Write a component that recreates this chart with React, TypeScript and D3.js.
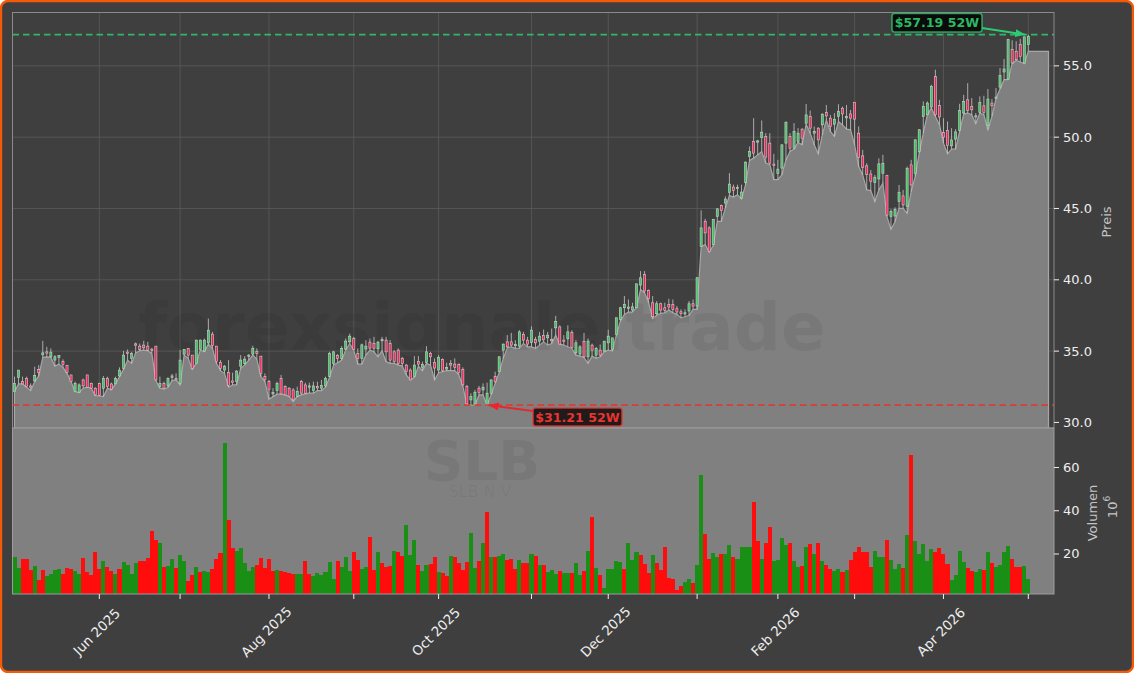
import * as d3 from "d3";

const open = [
  32.16,33.16,32.86,33.09,32.56,32.91,33.72,34.74,34.95,34.60,
  34.37,34.56,34.28,34.00,33.33,32.16,32.09,32.98,33.33,32.74,
  32.40,32.74,32.40,33.09,32.70,32.70,33.26,33.79,34.93,34.49,
  35.51,35.35,35.42,35.35,35.14,35.35,32.51,32.74,32.56,33.16,
  33.07,32.74,34.79,35.19,34.72,34.14,35.12,35.00,35.58,36.19,
  35.35,34.21,33.67,33.49,32.91,32.86,33.95,34.14,34.63,34.79,
  34.98,34.65,33.23,32.86,32.00,32.23,33.07,32.51,32.40,32.28,
  31.81,32.86,32.63,32.47,32.23,32.51,32.40,32.56,33.21,34.14,
  34.70,34.49,35.14,35.65,35.88,34.84,34.47,35.14,35.63,35.53,
  35.16,35.72,35.77,35.53,34.95,35.07,34.49,34.02,33.67,33.21,
  34.28,33.86,34.21,34.84,34.21,33.67,34.42,33.74,34.14,34.09,
  34.07,33.72,32.51,31.58,31.30,32.40,32.28,31.23,32.05,33.21,
  33.56,35.07,35.65,35.65,35.37,35.35,36.16,35.77,35.60,35.81,
  35.70,36.09,35.93,35.81,36.63,36.70,35.77,35.86,36.30,34.88,
  34.79,35.67,34.60,35.42,34.72,35.07,35.00,35.58,35.12,36.17,
  37.23,38.04,38.00,37.88,38.04,39.63,40.37,39.25,38.39,37.62,
  38.32,38.04,38.27,38.27,37.97,37.76,37.60,37.81,38.32,38.16,
  42.35,44.10,43.64,42.47,44.45,45.20,45.38,46.13,46.50,46.39,
  45.73,46.83,48.65,49.70,49.65,49.98,50.05,49.58,48.11,47.44,
  47.83,49.58,50.05,49.23,49.70,50.56,50.98,51.45,50.28,50.63,
  50.86,51.72,51.33,50.91,51.45,52.03,51.35,51.63,52.45,50.28,
  48.69,47.99,47.42,46.81,47.07,47.47,47.33,44.43,44.47,45.48,
  45.88,45.13,48.06,47.47,49.00,51.45,51.57,52.11,54.26,52.22,
  50.33,50.47,49.39,49.86,50.47,51.69,52.62,52.15,51.41,51.73,
  52.20,50.80,52.39,52.72,53.51,54.57,54.07,56.14,56.02,56.49,55.20,56.49,
];

const close = [
  32.74,33.67,32.70,32.51,32.47,33.30,33.49,34.88,34.86,34.93,
  34.60,34.70,34.05,33.51,32.86,32.74,32.63,32.56,32.47,32.40,
  31.93,31.91,33.09,32.51,32.33,33.09,33.67,34.72,34.84,34.84,
  35.42,35.12,35.23,35.07,35.05,32.98,32.74,32.40,33.09,33.26,
  32.98,34.37,35.12,34.72,33.79,35.77,35.77,35.77,36.47,35.40,
  34.26,33.79,33.95,32.60,32.81,33.60,34.37,34.44,34.72,35.19,
  34.84,33.44,33.02,32.33,32.09,32.74,32.00,31.93,31.81,31.58,
  32.16,32.05,32.05,32.56,32.56,32.42,32.60,33.09,34.84,34.95,
  34.49,35.19,35.70,36.05,35.12,34.47,35.44,35.35,35.21,35.21,
  35.63,35.81,34.95,34.37,34.26,34.14,34.14,33.56,32.98,34.02,
  34.09,34.07,34.95,34.60,33.81,34.56,33.63,33.84,34.02,33.86,
  33.49,32.63,31.30,31.81,32.12,32.09,32.47,32.05,32.98,32.86,
  34.60,35.49,35.30,35.42,35.47,36.35,35.77,35.49,36.47,35.58,
  36.05,35.79,36.12,35.72,37.09,35.49,35.67,36.35,35.26,35.58,
  35.30,34.60,35.70,35.07,35.19,34.72,35.70,36.05,35.93,37.34,
  38.04,38.27,38.09,38.11,39.72,40.14,39.21,38.67,37.41,38.32,
  37.88,37.86,38.09,37.93,37.74,37.62,37.69,38.32,38.16,40.14,
  43.64,43.29,42.00,44.22,44.97,44.87,45.66,46.71,46.27,46.48,
  46.15,48.25,49.00,48.88,49.74,50.35,48.60,48.18,48.02,47.76,
  49.46,51.05,49.23,50.40,50.28,49.93,51.56,50.63,50.40,49.81,
  51.61,51.49,50.75,51.26,51.79,51.63,51.45,51.33,51.26,48.59,
  47.89,47.38,46.91,47.19,48.13,48.17,44.54,44.78,44.94,46.14,
  45.25,47.82,46.65,49.81,50.52,52.15,52.39,53.56,51.57,51.41,
  50.00,49.41,49.81,50.37,51.87,52.51,51.87,51.92,51.50,52.44,
  51.73,52.67,52.20,52.81,54.31,54.78,56.84,55.20,55.43,55.67,57.03,57.07,
];

const high = [
  33.21,33.67,33.21,33.21,32.74,33.91,34.02,35.72,35.30,35.19,
  34.72,34.70,34.42,34.00,33.33,32.86,32.74,33.07,33.33,32.79,
  32.47,32.79,33.26,33.21,32.79,33.21,33.86,35.02,35.12,34.95,
  35.60,35.53,35.72,35.65,35.23,35.35,33.21,32.86,33.16,33.40,
  33.44,35.07,35.12,35.19,34.72,35.81,35.81,35.88,37.28,36.35,
  35.35,34.37,34.02,34.37,33.49,33.67,34.72,34.65,34.79,35.37,
  35.19,34.65,33.44,32.98,32.40,32.86,33.33,32.60,32.47,32.40,
  32.51,32.98,32.79,32.79,32.86,32.86,32.98,33.21,34.95,35.02,
  34.79,35.35,35.88,36.23,36.00,35.19,35.53,35.77,35.88,36.00,
  35.72,36.00,36.00,35.77,35.07,35.19,34.60,34.09,33.79,34.65,
  34.65,34.26,35.35,34.95,34.49,34.72,34.49,34.19,34.37,34.49,
  34.14,33.86,32.63,32.05,32.28,32.56,32.74,32.79,33.02,33.56,
  34.65,35.53,36.12,36.28,35.77,36.47,36.35,36.00,36.74,36.00,
  36.35,36.51,36.35,36.58,37.47,36.81,36.12,36.81,36.47,35.77,
  35.42,36.28,35.88,35.53,35.30,35.47,35.70,36.50,35.93,37.34,
  38.10,38.86,38.62,38.39,39.72,40.61,40.61,39.32,38.86,38.51,
  38.39,38.39,38.67,38.62,38.16,37.93,37.93,38.51,38.62,40.19,
  44.87,44.27,43.75,44.27,45.03,45.27,45.85,47.48,46.67,46.67,
  46.67,48.30,49.35,51.33,49.81,51.17,50.28,50.28,48.83,48.41,
  49.51,51.10,50.28,50.98,50.63,50.63,52.33,51.86,50.75,50.70,
  51.68,52.26,51.56,51.68,52.31,52.14,52.26,51.91,52.45,50.75,
  49.11,48.17,47.70,47.35,48.52,48.76,47.35,44.94,45.08,46.65,
  46.30,47.94,48.41,49.86,50.56,52.51,52.51,53.68,54.73,52.62,
  51.33,51.10,50.63,50.56,52.34,52.97,53.79,52.74,51.69,52.86,
  52.90,53.37,52.67,53.44,54.85,55.48,56.89,56.79,56.72,56.89,57.07,57.19,
];

const low = [
  32.16,32.70,32.70,32.47,32.23,32.86,33.26,34.56,34.60,34.56,
  33.95,34.09,33.86,33.44,32.86,32.16,32.09,32.40,32.47,32.40,
  31.88,31.86,31.81,32.40,32.28,32.70,33.21,33.72,34.37,34.14,
  34.88,35.02,35.07,35.02,34.84,32.93,32.40,32.33,32.47,32.93,
  32.98,32.63,34.72,34.49,33.72,34.14,35.07,34.95,35.49,35.19,
  34.14,33.63,33.44,32.47,32.63,32.63,33.79,34.02,34.37,34.72,
  34.42,33.21,32.86,31.63,31.81,31.98,31.98,31.93,31.81,31.47,
  31.81,31.93,32.00,32.05,32.05,32.23,32.23,32.47,33.16,34.02,
  34.19,34.37,35.07,35.53,35.07,34.09,34.09,34.72,35.07,34.95,
  34.60,35.02,34.26,34.14,34.14,34.02,33.95,33.33,32.98,33.16,
  33.95,33.63,34.14,34.02,32.98,33.49,33.56,33.63,33.63,33.63,
  33.33,32.56,31.23,31.21,31.21,31.93,31.93,31.21,31.93,32.74,
  33.49,34.49,35.23,35.30,35.19,35.19,35.53,35.30,35.30,35.19,
  35.42,35.65,35.42,35.53,36.12,35.49,35.42,35.30,35.19,34.72,
  34.65,34.56,34.14,34.65,34.49,34.60,34.95,35.07,35.00,36.10,
  37.10,37.58,37.74,37.74,38.04,39.32,39.09,38.39,37.27,37.51,
  37.65,37.69,37.88,37.69,37.58,37.34,37.41,37.51,37.93,37.93,
  42.31,42.47,41.93,42.40,44.10,44.10,45.03,45.90,45.80,45.97,
  45.66,46.67,48.37,48.53,48.76,49.00,48.18,48.07,47.02,47.02,
  47.37,48.41,49.00,49.16,49.63,49.46,50.91,50.28,49.46,48.83,
  50.16,51.21,50.40,50.05,51.10,50.86,50.56,50.51,49.46,47.94,
  47.35,46.30,46.25,45.48,46.30,46.77,44.43,43.54,44.07,45.01,
  45.01,44.66,46.18,47.24,48.88,50.28,51.57,52.04,51.45,50.87,
  49.58,48.83,49.16,49.16,50.40,51.62,51.69,51.57,50.94,51.69,
  51.57,50.52,51.45,52.72,53.37,54.03,54.03,55.15,55.39,55.27,55.15,56.02,
];

// Millionen Stueck
const volume = [
  18.8,13.7,17.7,17.7,12.6,14.5,8,12.6,10,10.8,
  12.5,13,10.8,13.5,13,12.1,10.8,18.2,11.7,10.3,
  21,13,16.8,14,12.1,10.8,13,16.3,15,10.6,
  15.9,16.8,16.8,18.2,30.7,26.5,25.1,14,14.5,17.7,
  13.5,19.6,16.8,7.5,10.3,14,11.7,12.1,11.7,13,
  17.7,20.5,71.4,35.8,22.8,21.4,22.8,15.9,12.1,14,
  15,18.2,13.5,17.7,12.1,12.6,12.1,11.7,11,10.6,
  10.8,10.8,16.8,10.8,10,11.2,10.5,11.7,16.3,8.4,
  16.8,14,18.6,12.1,21,17.2,13,14,27.9,12.6,
  21,15.9,14,14.5,21.4,21,19.1,33.4,19.6,26.5,
  15,12.1,15,15.4,18.6,11.7,11.2,10,19.1,18.6,
  15.9,12.6,16.3,29.7,13.5,16.8,25.1,39.5,18.6,18.6,
  19.1,20,17.2,17.7,13,17.2,15.9,15.9,20,19.1,
  15,15,11.7,12.6,10.8,12.1,11.2,11.2,11.2,15.9,
  10.3,12.1,21.4,37.1,13.5,10.3,4.3,13,13,16.8,
  16.3,13,25.1,17.2,21,19.6,15.4,11.2,19.6,15.9,
  12.6,23.3,8.9,8.4,3.4,5.2,7,8.4,6.6,15,
  56.6,29.3,17.7,20.5,18.6,20,20,24.2,18.6,17.7,
  23.3,23.3,23.3,44.1,26,17.7,25.1,32.5,16.8,17.2,
  27.4,24.2,25.1,16.8,14,14.5,23.3,24.6,20,25.1,
  16.8,15,13,12.1,13,11.7,12.6,17.2,21,23.3,
  20.8,21,14,21.4,18.6,18.6,26.5,17.2,13.1,15.4,
  13.5,28.8,65.8,26,20,24.6,16.8,22.3,21,22.8,
  20,15.4,8,10.3,21.4,16.3,13.5,12.1,11.7,13.1,
  12.6,21,15.9,14,14.9,21,23.7,17.7,14,14,14.5,8.4,
];

// R = rot, G = gruen, je ein Zeichen pro Handelstag
const volumeSide =
  "GGRRRGRRGG" + "GGRRRGGRRR" + "RRGRRGRGGG" + "GRRRRRGRGG" + "RGGRRGRGGR" +
  "RRGRRGGGGG" + "RRRRRGRRRR" + "GGRRGGGGGG" + "RGGGRRGGRR" + "GRRRGRRGGG" +
  "RGGRRGRRGR" + "RRRGGRGRGR" + "GGRRRGRRGR" + "GRGGGRGGRG" + "GRGRGRGGGG" +
  "GRGGGRRRGR" + "RRRRRRGGRG" + "GRRGGRGGRG" + "GGGRRGRRGG" + "GGRGGRGRGR" +
  "GRRGGRGRRR" + "RRRGGGRGGG" + "RGRGGGGGRR" + "RRGGGGRRGG" + "RGRGGGGRRR" + "GG";

const priceTicks = [30, 35, 40, 45, 50, 55];
const volumeTicks = [20, 40, 60];
// Index des ersten Handelstags im Monat
const monthTicks = [21, 41, 63, 84, 105, 128, 147, 169, 189, 208, 230, 251];
const monthLabels: Record<number, string> = {
  21: "Jun 2025",
  63: "Aug 2025",
  105: "Oct 2025",
  147: "Dec 2025",
  189: "Feb 2026",
  230: "Apr 2026",
};
const forwardDays = 5;
const yearHigh = 57.19;
const yearHighIndex = 250;
const yearLow = 31.21;
const yearLowIndex = 117;

const font = "'DejaVu Sans', sans-serif";
const W = 1134;
const H = 673;
const left = 12.5;
const right = 1054;
const top = 12.5;
const split = 428;
const bottom = 594;

const x = d3.scaleLinear().domain([0, close.length - 1]).range([14.5, 1028.3]);
const y = d3.scaleLinear().domain([29.61, 58.74]).range([split, top]);
const yVol = d3.scaleLinear().domain([1.5, 78.26]).range([bottom, split]);
const step = x(1) - x(0);

const lowLine = [...low, ...d3.range(forwardDays).map(() => low[low.length - 1])];

const areaPath = d3
  .area<number>()
  .x((_, i) => x(i))
  .y1((d) => y(d))
  .y0(split)(lowLine) as string;

const UP = "#3cc45e";
const DOWN = "#f5225a";
const GREEN = "#2ecc71";
const RED = "#e0362c";

export default function App() {
  return (
    <div style={{ position: "absolute", left: 0, top: 0, width: W, height: H, background: "#fff" }}>
      <svg width={W} height={H} style={{ display: "block" }} fontFamily={font}>
        <defs>
          <marker id="headG" markerUnits="userSpaceOnUse" markerWidth="11" markerHeight="8" refX="10" refY="4" orient="auto">
            <path d="M0,0 L10,4 L0,8 Z" fill={GREEN} />
          </marker>
          <marker id="headR" markerUnits="userSpaceOnUse" markerWidth="11" markerHeight="8" refX="10" refY="4" orient="auto">
            <path d="M0,0 L10,4 L0,8 Z" fill="#e8262c" />
          </marker>
        </defs>
        <rect x={1} y={1} width={W - 2} height={H - 2} rx={7} fill="#3f3f3f" stroke="#f55a08" strokeWidth={2.4} />

        {/* Hauptpanel: Gitter */}
        {priceTicks.slice(1).map((t) => (
          <line key={t} x1={left} x2={right} y1={y(t)} y2={y(t)} stroke="#5a5a5a" strokeWidth={0.8} />
        ))}
        {monthTicks.map((t) => (
          <line key={t} x1={x(t)} x2={x(t)} y1={top} y2={split} stroke="#5a5a5a" strokeWidth={0.8} />
        ))}

        {/* Flaeche unter dem Tief */}
        <path d={areaPath} fill="#808080" stroke="#a6a6a6" strokeWidth={1.2} />
        <text x={482} y={327} textAnchor="middle" dominantBaseline="central" fontWeight="bold" fontSize={66} fill="#000" fillOpacity={0.06}>
          forexsignale.trade
        </text>

        {/* Volumenpanel */}
        <rect x={left} y={split} width={right - left} height={bottom - split} fill="#808080" />
        <text x={482} y={461} textAnchor="middle" dominantBaseline="central" fontWeight="bold" fontSize={55} fill="#000" fillOpacity={0.06}>
          SLB
        </text>
        <text x={480} y={491} textAnchor="middle" dominantBaseline="central" fontSize={16} fill="#000" fillOpacity={0.06}>
          SLB N V
        </text>
        {volume.map((v, i) => (
          <rect
            key={i}
            x={x(i) - step / 2}
            width={step}
            y={yVol(v)}
            height={bottom - yVol(v)}
            fill={volumeSide[i] === "R" ? "#ff0c0c" : "#1a8f16"}
            shapeRendering="crispEdges"
          />
        ))}

        {/* Kerzen */}
        {close.map((c, i) => (
          <line key={i} x1={x(i)} x2={x(i)} y1={y(high[i])} y2={y(low[i])} stroke="#c8c8c8" strokeWidth={0.8} />
        ))}
        {close.map((c, i) => {
          const up = c >= open[i];
          const t = y(Math.max(c, open[i]));
          const b = y(Math.min(c, open[i]));
          return (
            <rect key={i} x={x(i) - 1.05} width={2.1} y={t} height={Math.max(b - t, 1)} fill={up ? UP : DOWN} stroke="#cfcfcf" strokeWidth={0.6} />
          );
        })}

        {/* 52W Linien */}
        <line x1={left} x2={right} y1={y(yearHigh)} y2={y(yearHigh)} stroke={GREEN} strokeOpacity={0.85} strokeWidth={1.8} strokeDasharray="6.5 4" />
        <line x1={left} x2={right} y1={y(yearLow)} y2={y(yearLow)} stroke={RED} strokeOpacity={0.9} strokeWidth={1.8} strokeDasharray="6.5 4" />

        {/* Rahmen */}
        <rect x={left} y={top} width={right - left} height={split - top} fill="none" stroke="#8a8a8a" strokeWidth={1} />
        <rect x={left} y={split} width={right - left} height={bottom - split} fill="none" stroke="#9c9c9c" strokeWidth={1} />

        {/* Achsen */}
        {priceTicks.map((t) => (
          <g key={t} transform={`translate(${right},${y(t)})`}>
            <line x2={5} stroke="#eee" />
            <text x={9} dominantBaseline="central" fontSize={13} fill="#eee">
              {t.toFixed(1)}
            </text>
          </g>
        ))}
        {volumeTicks.map((t) => (
          <g key={t} transform={`translate(${right},${yVol(t)})`}>
            <line x2={5} stroke="#eee" />
            <text x={9} dominantBaseline="central" fontSize={13} fill="#eee">
              {t}
            </text>
          </g>
        ))}
        {monthTicks.map((t) => (
          <line key={t} x1={x(t)} x2={x(t)} y1={bottom} y2={bottom + 5} stroke="#eee" />
        ))}
        {monthTicks
          .filter((t) => monthLabels[t])
          .map((t) => (
            <text
              key={t}
              transform={`translate(${x(t) - 2.5},632) rotate(-45)`}
              textAnchor="middle"
              dominantBaseline="central"
              fontSize={13.4}
              fill="#eee"
            >
              {monthLabels[t]}
            </text>
          ))}
        <text transform="translate(1106,222) rotate(-90)" textAnchor="middle" dominantBaseline="central" fontSize={13} fill="#c4c4c4">
          Preis
        </text>
        <text transform="translate(1092,513) rotate(-90)" textAnchor="middle" dominantBaseline="central" fontSize={13} fill="#c4c4c4">
          Volumen
        </text>
        <text transform="translate(1112,507) rotate(-90)" textAnchor="middle" dominantBaseline="central" fontSize={13} fill="#c4c4c4">
          10
          <tspan dy={-5} fontSize={9}>6</tspan>
        </text>

        {/* Annotationen */}
        <line x1={982} y1={28} x2={x(yearHighIndex) + 1} y2={y(yearHigh)} stroke={GREEN} strokeWidth={1.8} markerEnd="url(#headG)" />
        <rect x={892} y={13.5} width={90} height={18.5} rx={2.5} fill="#050505" fillOpacity={0.9} stroke={GREEN} strokeOpacity={0.75} strokeWidth={1.6} />
        <text x={937} y={22.7} textAnchor="middle" dominantBaseline="central" fontWeight="bold" fontSize={12.6} fill="#2bb863">
          ${yearHigh.toFixed(2)} 52W
        </text>
        <line x1={533} y1={411} x2={x(yearLowIndex) + 1.5} y2={y(yearLow)} stroke="#e8262c" strokeWidth={1.8} markerEnd="url(#headR)" />
        <rect x={533} y={408} width={89} height={18} rx={2.5} fill="#1a1414" fillOpacity={0.95} stroke="#e03a32" strokeOpacity={0.85} strokeWidth={1.6} />
        <text x={577.5} y={417} textAnchor="middle" dominantBaseline="central" fontWeight="bold" fontSize={12.6} fill="#e8352f">
          ${yearLow.toFixed(2)} 52W
        </text>
      </svg>
    </div>
  );
}
